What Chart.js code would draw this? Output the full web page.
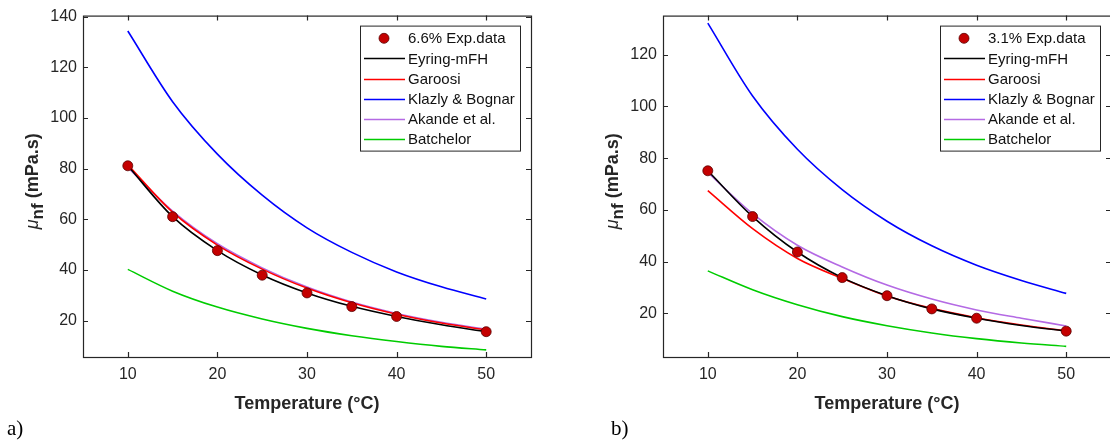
<!DOCTYPE html>
<html>
<head>
<meta charset="utf-8">
<script src="https://cdn.jsdelivr.net/npm/chart.js@4.4.1/dist/chart.umd.min.js"></script>
<style>
html, body { margin:0; padding:0; overflow:hidden; background:#fff; }
body { width:1110px; height:446px; position:relative; }
.panel { position:absolute; top:0; width:560px; height:446px; }
.tag { position:absolute; top:416px; font-family:"Liberation Serif", serif; font-size:21px; color:#000; }
</style>
</head>
<body>
<div class="panel" style="left:0"><canvas id="chartA" width="560" height="446"></canvas></div>
<div class="panel" style="left:580px"><canvas id="chartB" width="560" height="446"></canvas></div>
<div class="tag" style="left:7px">a)</div>
<div class="tag" style="left:611px">b)</div>
<script>
// temperatures (°C)
const tempModel = [10, 15, 20, 25, 30, 35, 40, 45, 50];
const tempExp = [10, 15, 20, 25, 30, 35, 40, 50];
const xTicks = [10, 20, 30, 40, 50];

// a) 6.6 %
const expA = [81.1, 61.0, 47.6, 37.9, 30.9, 25.5, 21.6, 15.6];
const eyringA = [81.1, 61.0, 47.6, 38.0, 30.9, 25.6, 21.6, 18.3, 15.6];
const garoosiA = [81.5, 62.8, 49.8, 40.3, 32.8, 27.0, 22.5, 19.0, 16.3];
const klazlyA = [134.3, 106.4, 85.7, 69.5, 56.6, 46.9, 39.2, 33.3, 28.5];
const akandeA = [80.5, 63.2, 50.3, 40.8, 33.2, 27.3, 22.8, 19.3, 16.5];
const batchelorA = [40.2, 31.6, 25.3, 20.6, 16.9, 14.0, 11.7, 9.8, 8.4];
const yTicksA = [20, 40, 60, 80, 100, 120, 140];

// b) 3.1 %
const expB = [75.1, 57.4, 43.7, 33.8, 26.8, 21.7, 18.1, 13.1];
const eyringB = [75.1, 57.4, 43.7, 33.8, 26.8, 21.7, 18.1, 15.3, 13.1];
const garoosiB = [67.4, 52.7, 41.2, 33.5, 26.7, 21.9, 18.3, 15.5, 13.2];
const klazlyB = [132.2, 104.0, 83.4, 67.8, 55.6, 46.1, 38.6, 32.7, 27.7];
const akandeB = [74.5, 58.5, 46.3, 37.9, 30.9, 25.5, 21.3, 18.1, 15.1];
const batchelorB = [36.4, 29.1, 23.3, 18.7, 15.2, 12.4, 10.2, 8.5, 7.2];
const yTicksB = [20, 40, 60, 80, 100, 120];

const modelNames = ['Eyring-mFH', 'Garoosi', 'Klazly & Bognar', 'Akande et al.', 'Batchelor'];
const modelColors = ['#000000', '#ff0000', '#0000ff', '#b46ae4', '#00cc00'];

const ink = '#262626';
const font = '"Liberation Sans", Arial, sans-serif';
Chart.defaults.font.family = font;
Chart.defaults.color = ink;

const pts = (xs, ys) => xs.map((x, i) => ({x: x, y: ys[i]}));

// box, inward ticks, y title and legend, matlab style
const matlabAxes = {
    id: 'matlabAxes',
    afterDraw(chart) {
        const {ctx, chartArea: a, scales: {x, y}} = chart;
        ctx.save();
        ctx.strokeStyle = ink;
        ctx.lineWidth = 1.2;
        ctx.strokeRect(a.left + 0.5, a.top + 0.5, a.width, a.height);
        const t = 5;
        ctx.beginPath();
        x.ticks.forEach(tk => {
            const px = Math.round(x.getPixelForValue(tk.value)) + 0.5;
            ctx.moveTo(px, a.bottom); ctx.lineTo(px, a.bottom - t);
            ctx.moveTo(px, a.top); ctx.lineTo(px, a.top + t);
        });
        y.ticks.forEach(tk => {
            const py = Math.round(y.getPixelForValue(tk.value)) + 0.5;
            ctx.moveTo(a.left, py); ctx.lineTo(a.left + t, py);
            ctx.moveTo(a.right, py); ctx.lineTo(a.right - t, py);
        });
        ctx.stroke();

        // y title: mu_nf (mPa.s)
        ctx.save();
        ctx.translate(32, (a.top + a.bottom) / 2 - 5);
        ctx.rotate(-Math.PI / 2);
        ctx.fillStyle = ink;
        ctx.textBaseline = 'alphabetic';
        const parts = [
            {s: 'μ', f: 'italic 18px ' + font, dy: 6},
            {s: 'nf', f: 'bold 17px ' + font, dy: 11},
            {s: ' (mPa.s)', f: 'bold 18px ' + font, dy: 6}
        ];
        let w = 0;
        parts.forEach(p => { ctx.font = p.f; p.w = ctx.measureText(p.s).width; w += p.w; });
        let cx = -w / 2;
        parts.forEach(p => { ctx.font = p.f; ctx.fillText(p.s, cx, p.dy); cx += p.w; });
        ctx.restore();

        // legend
        const bw = 160, bh = 125;
        const bx = a.right - 11 - bw, by = a.top + 10;
        ctx.fillStyle = '#fff';
        ctx.fillRect(bx, by, bw, bh);
        ctx.lineWidth = 1;
        ctx.strokeStyle = ink;
        ctx.strokeRect(bx + 0.5, by + 0.5, bw, bh);
        ctx.font = '15px ' + font;
        ctx.textBaseline = 'middle';
        chart.data.datasets.forEach((ds, i) => {
            const cy = by + 12.7 + i * 20.1;
            if (ds.showLine === false) {
                ctx.beginPath();
                ctx.arc(bx + 24, cy, ds.pointRadius, 0, Math.PI * 2);
                ctx.fillStyle = ds.pointBackgroundColor;
                ctx.fill();
                ctx.lineWidth = ds.pointBorderWidth;
                ctx.strokeStyle = ds.pointBorderColor;
                ctx.stroke();
            } else {
                ctx.beginPath();
                ctx.moveTo(bx + 4, Math.round(cy) + 0.5);
                ctx.lineTo(bx + 45, Math.round(cy) + 0.5);
                ctx.lineWidth = ds.borderWidth;
                ctx.strokeStyle = ds.borderColor;
                ctx.stroke();
            }
            ctx.fillStyle = '#111';
            ctx.fillText(ds.label, bx + 48, cy + 1);
        });
        ctx.restore();
    }
};

function makeChart(id, expLabel, exp, models, yMin, yMax, yTicks) {
    const datasets = [{
        label: expLabel,
        data: pts(tempExp, exp),
        showLine: false,
        pointRadius: 5,
        pointBackgroundColor: '#c40000',
        pointBorderColor: '#5a0000',
        pointBorderWidth: 0.8
    }];
    models.forEach((m, i) => {
        datasets.push({
            label: modelNames[i],
            data: pts(tempModel, m),
            borderColor: modelColors[i],
            borderWidth: 1.6,
            pointRadius: 0,
            cubicInterpolationMode: 'monotone',
            fill: false
        });
    });
    return new Chart(document.getElementById(id), {
        type: 'line',
        data: {datasets: datasets},
        options: {
            responsive: false,
            animation: false,
            layout: {padding: {left: 0, right: 29, top: 14, bottom: 0}},
            plugins: {legend: {display: false}, tooltip: {enabled: false}},
            scales: {
                x: {
                    type: 'linear', min: 5, max: 55,
                    afterBuildTicks: s => { s.ticks = xTicks.map(v => ({value: v})); },
                    afterFit: s => { s.height = 89; },
                    grid: {display: false, drawTicks: false},
                    border: {display: false},
                    ticks: {padding: 8, font: {size: 16}, color: ink},
                    title: {display: true, text: 'Temperature (°C)', color: ink,
                        font: {size: 18, weight: 'bold'}, padding: {top: 4, bottom: 31}}
                },
                y: {
                    type: 'linear', min: yMin, max: yMax,
                    afterBuildTicks: s => { s.ticks = yTicks.map(v => ({value: v})); },
                    afterFit: s => { s.width = 83; },
                    grid: {display: false, drawTicks: false},
                    border: {display: false},
                    ticks: {padding: 6, font: {size: 16}, color: ink}
                }
            }
        },
        plugins: [matlabAxes]
    });
}

makeChart('chartA', '6.6% Exp.data', expA,
    [eyringA, garoosiA, klazlyA, akandeA, batchelorA], 5.6, 140.4, yTicksA);
makeChart('chartB', '3.1% Exp.data', expB,
    [eyringB, garoosiB, klazlyB, akandeB, batchelorB], 3.1, 135.1, yTicksB);
</script>
</body>
</html>
